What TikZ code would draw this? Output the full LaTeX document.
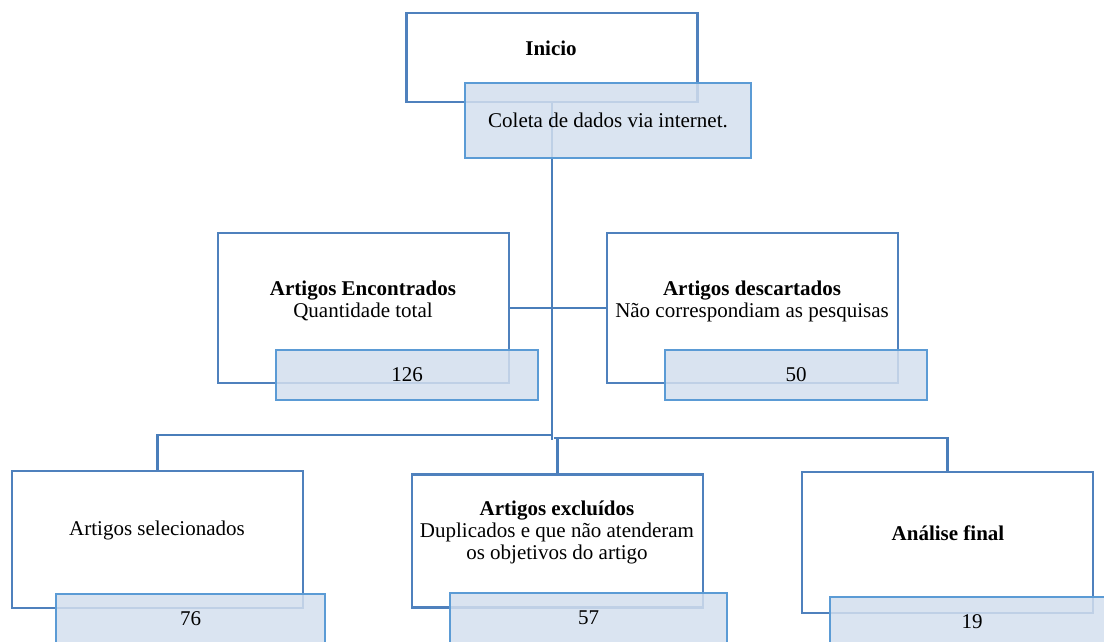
\documentclass[tikz,border=0pt]{standalone}
\usepackage{fontspec}
\setmainfont{Liberation Serif}
\definecolor{boxblue}{HTML}{4F81BD}
\definecolor{subblue}{HTML}{5B9BD5}
\definecolor{subfill}{HTML}{D3DFEE}
\definecolor{linkblue}{HTML}{4A7EBA}
\tikzset{
  mainbox/.style={draw=boxblue, line width=1.4pt, fill=white, minimum width=174.6pt, inner sep=0pt},
  subbox/.style={draw=subblue, line width=1.4pt, fill=subfill, fill opacity=0.85, text opacity=1, inner sep=0pt, minimum height=30pt, font=\fontsize{12.6}{13.2}\selectfont},
  link/.style={draw=linkblue, line width=1.6pt},
  txt/.style={align=center, inner sep=0pt, font=\fontsize{12.6}{13.2}\selectfont}
}
\begin{document}
\begin{tikzpicture}[x=0.6pt, y=-0.6pt]
        \useasboundingbox (0,0) rectangle (1104,641);
        \clip (0,0) rectangle (1104,641);

        % main boxes
        \node[mainbox, minimum height=53.4pt] (inicio) at (552,57.5) {};
        \node[mainbox, minimum height=90pt] (enc) at (363.5,308) {};
        \node[mainbox, minimum height=90pt] (desc) at (752.5,308) {};
        \node[mainbox, minimum height=82.2pt] (sel) at (157.5,539.5) {};
        \node[mainbox, minimum height=79.8pt] (exc) at (557.5,541) {};
        \node[mainbox, minimum height=84.6pt] (fin) at (947.5,542.5) {};

        \node[txt] (inicioT) at (551,48) {\textbf{Inicio}};
        \node[txt] (encT) at (363,301) {\textbf{Artigos Encontrados}\\Quantidade total};
        \node[txt] (descT) at (752,301) {\textbf{Artigos descartados}\\Não correspondiam as pesquisas};
        \node[txt] (selT) at (157,530) {Artigos selecionados};
        \node[txt] (excT) at (557,532) {\textbf{Artigos excluídos}\\Duplicados e que não atenderam\\os objetivos do artigo};
        \node[txt] (finT) at (948,533) {\textbf{Análise final}};

        % connectors
        \coordinate (split) at (552,440);
        \coordinate (joinL) at (552,435);
        \coordinate (joinR) at (554,438);

        \path [link] (inicio.south) -- (split);
        \path [link] (enc.east) -- (desc.west);
        \path [link] (sel.north) |- (joinL);
        \path [link] (fin.north) |- (joinR);
        \path [link] (exc.north) -- (exc.north |- joinR);

        % value boxes
        \node[subbox, minimum width=171.6pt, minimum height=45pt] (coleta) at (608,120.5) {Coleta de dados via internet.};
        \node[subbox, minimum width=157.2pt] (encN) at (407,375) {126};
        \node[subbox, minimum width=157.2pt] (descN) at (796,375) {50};
        \node[subbox, minimum width=161.4pt] (selN) at (190.5,619) {76};
        \node[subbox, minimum width=166.2pt] (excN) at (588.5,618) {57};
        \node[subbox, minimum width=170.4pt] (finN) at (972,622) {19};
\end{tikzpicture}
\end{document}
